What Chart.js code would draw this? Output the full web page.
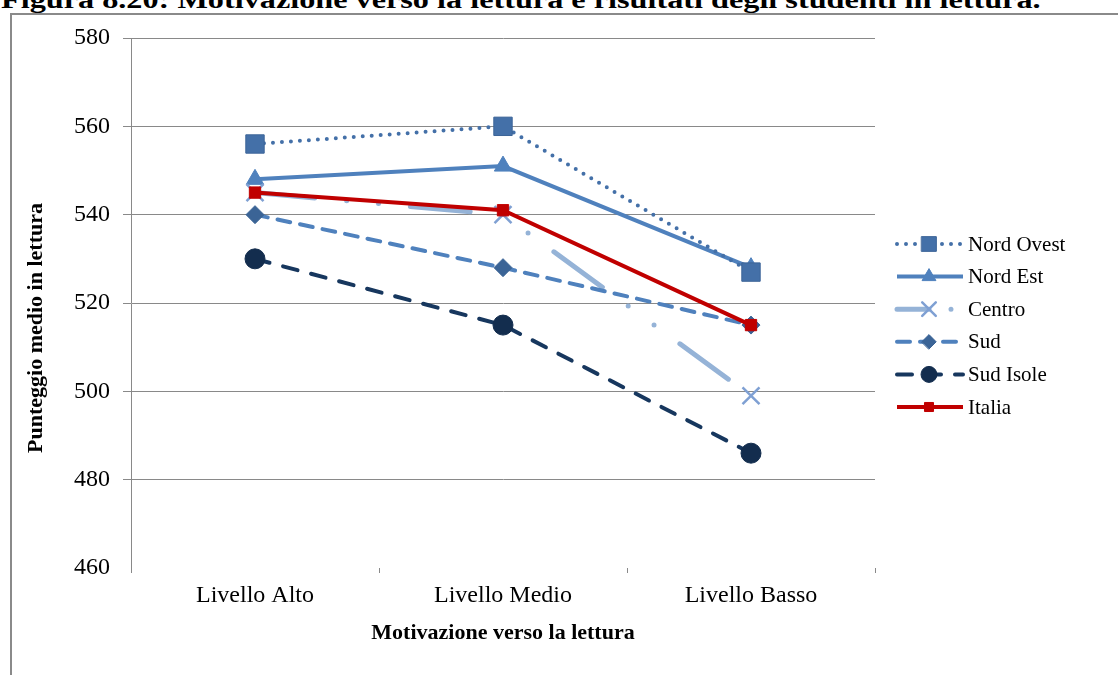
<!DOCTYPE html>
<html>
<head>
<meta charset="utf-8">
<script src="https://cdn.jsdelivr.net/npm/chart.js@4/dist/chart.umd.min.js"></script>
<style>
  html, body { margin: 0; padding: 0; background: #fff; }
  body { width: 1118px; height: 675px; position: relative; overflow: hidden; }
  #title {
    position: absolute; left: 1px; top: -13px;
    font: bold 26px "Liberation Serif", "Times New Roman", serif;
    line-height: 26px; white-space: nowrap; color: #000;
    transform: scaleX(1.24); transform-origin: left top;
  }
  #frame {
    position: absolute; left: 10px; top: 13px; width: 1130px; height: 700px;
    border: 2px solid #8a8a8a; box-sizing: border-box;
  }
  #chart { position: absolute; left: 0; top: 0; }
</style>
</head>
<body>
<div id="title">Figura 8.20: Motivazione verso la lettura e risultati degli studenti in lettura.</div>
<div id="frame"></div>
<canvas id="chart" width="1118" height="675"></canvas>
<script>
/* ---------------- dati ---------------- */
const categories = ['Livello Alto', 'Livello Medio', 'Livello Basso'];
const nordOvest  = [556, 560, 527];
const nordEst    = [548, 551, 528];
const centro     = [545, 540, 499];
const sud        = [540, 528, 515];
const sudIsole   = [530, 515, 486];
const italia     = [545, 541, 515];

const yMin = 460, yMax = 580, yStep = 20;
const yTitle = 'Punteggio medio in lettura';
const xTitle = 'Motivazione verso la lettura';

const SERIF = '"Liberation Serif", "Times New Roman", serif';
const GRID = '#898989';

/* ---------------- legenda (linea + marker come in Excel) ---------------- */
const legendPlugin = {
  id: 'excelLegend',
  afterDraw(chart) {
    const ctx = chart.ctx;
    const x0 = chart.chartArea.right + 22;
    const y0 = 244, row = 32.6;
    chart.data.datasets.forEach((ds, i) => {
      const y = y0 + i * row;
      ctx.save();
      ctx.strokeStyle = ds.borderColor;
      ctx.lineWidth = ds.borderWidth;
      ctx.lineCap = ds.borderCapStyle || 'butt';
      ctx.setLineDash(ds.legendDash || ds.borderDash || []);
      ctx.beginPath();
      ctx.moveTo(x0, y);
      ctx.lineTo(x0 + 66, y);
      ctx.stroke();
      ctx.setLineDash([]);
      ctx.fillStyle = ds.pointBackgroundColor;
      ctx.strokeStyle = ds.pointBorderColor;
      ctx.lineWidth = ds.pointBorderWidth;
      if (Chart.helpers && Chart.helpers.drawPoint) {
        Chart.helpers.drawPoint(ctx, {
          pointStyle: ds.pointStyle, rotation: 0,
          radius: ds.pointRadius * 0.8, borderWidth: ds.pointBorderWidth
        }, x0 + 32, y);
      }
      ctx.fillStyle = '#000';
      ctx.font = '21px ' + SERIF;
      ctx.textBaseline = 'middle';
      ctx.textAlign = 'left';
      ctx.fillText(ds.label, x0 + 71, y + 1);
      ctx.restore();
    });

    // titolo asse Y
    const a = chart.chartArea;
    ctx.save();
    ctx.translate(36, (a.top + a.bottom) / 2 + 25);
    ctx.rotate(-Math.PI / 2);
    ctx.font = 'bold 22px ' + SERIF;
    ctx.fillStyle = '#000';
    ctx.textAlign = 'center';
    ctx.textBaseline = 'middle';
    ctx.fillText(yTitle, 0, 0);
    ctx.restore();
  }
};

/* ---------------- chart ---------------- */
const ctx = document.getElementById('chart').getContext('2d');
new Chart(ctx, {
  type: 'line',
  data: {
    labels: categories,
    datasets: [
      { label: 'Nord Ovest', data: nordOvest, order: 4,
        borderColor: '#4470A8', borderWidth: 4, borderDash: [0, 9], borderCapStyle: 'round',
        pointStyle: 'rect', pointRadius: 13, pointBackgroundColor: '#4470A8', pointBorderColor: '#3C6498', pointBorderWidth: 1 },
      { label: 'Nord Est', data: nordEst, order: 5,
        borderColor: '#4F81BD', borderWidth: 4,
        pointStyle: 'triangle', pointRadius: 10, pointBackgroundColor: '#4F81BD', pointBorderColor: '#4F81BD', pointBorderWidth: 1 },
      { label: 'Centro', data: centro, order: 3,
        borderColor: '#95B3D7', borderWidth: 5, borderDash: [60, 32, 0, 32, 0, 32], borderCapStyle: 'round',
        legendDash: [32, 22, 0, 30],
        pointStyle: 'crossRot', pointRadius: 12, pointBackgroundColor: '#7FA0D3', pointBorderColor: '#7FA0D3', pointBorderWidth: 2.5 },
      { label: 'Sud', data: sud, order: 2,
        borderColor: '#4F81BD', borderWidth: 4, borderDash: [13, 10], borderCapStyle: 'round',
        pointStyle: 'rectRot', pointRadius: 9, pointBackgroundColor: '#3B6496', pointBorderColor: '#3B6496', pointBorderWidth: 1 },
      { label: 'Sud Isole', data: sudIsole, order: 1,
        borderColor: '#17375E', borderWidth: 4, borderDash: [15, 14], borderCapStyle: 'round',
        pointStyle: 'circle', pointRadius: 10, pointBackgroundColor: '#132D4E', pointBorderColor: '#132D4E', pointBorderWidth: 1 },
      { label: 'Italia', data: italia, order: 0,
        borderColor: '#C00000', borderWidth: 4,
        pointStyle: 'rect', pointRadius: 8, pointBackgroundColor: '#C00000', pointBorderColor: '#C00000', pointBorderWidth: 1 }
    ]
  },
  options: {
    responsive: false,
    animation: false,
    layout: { padding: { top: 38, right: 243, bottom: 0, left: 0 } },
    plugins: {
      legend: { display: false },
      tooltip: { enabled: false }
    },
    elements: { line: { tension: 0, fill: false } },
    scales: {
      x: {
        offset: true,
        grid: { offset: true, drawOnChartArea: false, drawTicks: true, tickLength: 5, color: GRID },
        border: { display: false },
        ticks: { font: { family: SERIF, size: 24 }, color: '#000', padding: 8, maxRotation: 0 },
        title: { display: true, text: xTitle, color: '#000',
                 font: { family: SERIF, size: 22, weight: 'bold' }, padding: { top: 0, bottom: 28 } },
        afterFit(scale) { scale.height = 107; }
      },
      y: {
        min: yMin, max: yMax,
        grid: {
          color: c => (c.tick && c.tick.value === yMin) ? 'rgba(0,0,0,0)' : GRID,
          drawTicks: true, tickLength: 8, lineWidth: 1
        },
        border: { display: true, color: GRID, width: 1 },
        ticks: { stepSize: yStep, font: { family: SERIF, size: 24 }, color: '#000', padding: 13 },
        afterFit(scale) { scale.width = 131; }
      }
    }
  },
  plugins: [legendPlugin]
});
</script>
</body>
</html>
